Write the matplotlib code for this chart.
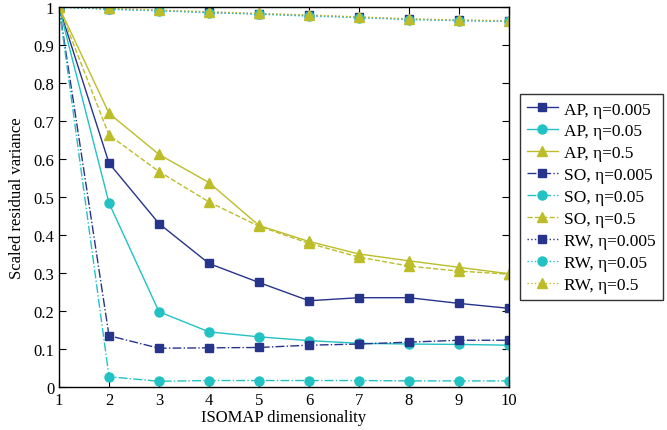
import numpy as np
import matplotlib
matplotlib.use("Agg")
import matplotlib.pyplot as plt

plt.rcParams['font.family'] = ['Liberation Serif', 'DejaVu Serif']
plt.rcParams['mathtext.fontset'] = 'stix'

dims = [1, 2, 3, 4, 5, 6, 7, 8, 9, 10]

ap_0005 = [1.0, 0.589, 0.430, 0.325, 0.275, 0.227, 0.235, 0.235, 0.220, 0.207]
ap_005 = [1.0, 0.484, 0.198, 0.145, 0.132, 0.122, 0.115, 0.113, 0.112, 0.110]
ap_05 = [1.0, 0.720, 0.612, 0.538, 0.425, 0.383, 0.350, 0.332, 0.315, 0.298]

so_0005 = [1.0, 0.135, 0.102, 0.103, 0.104, 0.110, 0.113, 0.118, 0.123, 0.123]
so_005 = [1.0, 0.027, 0.015, 0.017, 0.017, 0.017, 0.017, 0.016, 0.016, 0.016]
so_05 = [1.0, 0.663, 0.567, 0.487, 0.423, 0.378, 0.342, 0.318, 0.305, 0.297]

rw_0005 = [1.0, 0.995, 0.991, 0.986, 0.982, 0.978, 0.973, 0.968, 0.965, 0.963]
rw_005 = [1.0, 0.994, 0.990, 0.985, 0.981, 0.976, 0.972, 0.967, 0.964, 0.962]
rw_05 = [1.0, 0.997, 0.992, 0.988, 0.983, 0.979, 0.974, 0.969, 0.966, 0.964]

navy = '#26348c'
cyan = '#22c2c4'
olive = '#bdbd2a'

series = [
    ('AP, η=0.005', ap_0005, navy, 's', '-'),
    ('AP, η=0.05', ap_005, cyan, 'o', '-'),
    ('AP, η=0.5', ap_05, olive, '^', '-'),
    ('SO, η=0.005', so_0005, navy, 's', '-.'),
    ('SO, η=0.05', so_005, cyan, 'o', '-.'),
    ('SO, η=0.5', so_05, olive, '^', '--'),
    ('RW, η=0.005', rw_0005, navy, 's', ':'),
    ('RW, η=0.05', rw_005, cyan, 'o', ':'),
    ('RW, η=0.5', rw_05, olive, '^', ':'),
]

fig = plt.figure(figsize=(6.67, 4.31), dpi=100)
ax = fig.add_axes([0.0885, 0.0998, 0.6745, 0.8816])

for label, vals, col, mk, ls in series:
    ms = 5.5 if mk == 's' else 6.5
    ax.plot(dims, vals, linestyle=ls, marker=mk, color=col, markersize=ms,
            linewidth=1.0, label=label)

ax.set_xlim(1, 10)
ax.set_ylim(0, 1)
ax.set_xticks(dims)
yt = np.round(np.arange(0, 1.01, 0.1), 1)
ax.set_yticks(yt)
ax.set_yticklabels(['0'] + [f'{v:g}' for v in yt[1:-1]] + ['1'])
ax.tick_params(direction='in', top=True, right=True, length=5, labelsize=12,
               width=0.8)
for s in ax.spines.values():
    s.set_linewidth(1.0)

ax.set_xlabel('ISOMAP dimensionality', fontsize=12, labelpad=1)
ax.set_ylabel('Scaled residual variance', fontsize=12, labelpad=6)

leg = ax.legend(loc='center left', bbox_to_anchor=(1.0244, 0.5), fontsize=12.5,
                frameon=True, fancybox=False, edgecolor='black',
                borderaxespad=0, handlelength=1.8, handletextpad=0.35,
                borderpad=0.4, labelspacing=0.33)
leg.get_frame().set_linewidth(1.0)

fig.savefig('out.png', dpi=100)
